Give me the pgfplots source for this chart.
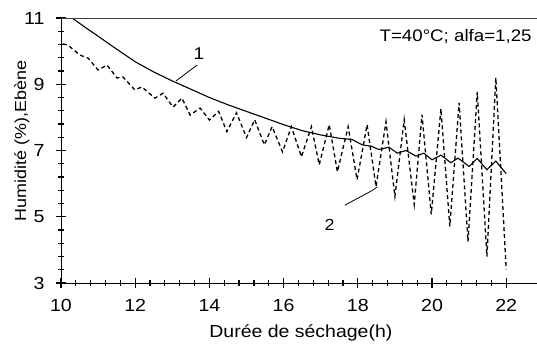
\documentclass[border=0pt]{standalone}
\usepackage{fontspec}
\setmainfont{Liberation Sans}[FakeStretch=1.12]
\usepackage{pgfplots}
\pgfplotsset{compat=1.18}
\begin{document}
\begin{tikzpicture}
\begin{axis}[
  scale only axis, width=476pt, height=265pt,
  xmin=10, xmax=22.83, ymin=3, ymax=11,
  axis lines*=left,
  axis line style={line width=1pt},
  xtick={10,12,14,16,18,20,22}, ytick={3,5,7,9,11},
  minor x tick num=4, minor y tick num=4,
  tick align=center,
  major tick length=10pt, minor tick length=6pt,
  every tick/.append style={black, line width=1.2pt},
  /pgf/number format/assume math mode=true,
  tick label style={font=\fontsize{17.5}{20}\selectfont},
  xticklabel style={yshift=-8pt}, yticklabel style={xshift=-8pt},
  xlabel={Durée de séchage(h)}, ylabel={Humidité (\%),Ebène},
  xlabel style={font=\fontsize{17.4}{20}\selectfont, at={(axis description cs:0.504,-0.204)}, anchor=base},
  ylabel style={font=\fontsize{16}{19}\selectfont, at={(axis description cs:-0.082,0.536)}, anchor=center},
]
% curve 1 (solid)
\addplot[black, line width=1.1pt] coordinates {
(10.3,11.0) (10.6,10.76) (11.0,10.45) (11.5,10.06) (12.0,9.68) (12.5,9.37)
(13.0,9.1) (13.5,8.85) (14.0,8.6) (14.5,8.38) (15.0,8.18) (15.5,7.98)
(16.0,7.78) (16.5,7.6) (17.0,7.47) (17.5,7.37)
(17.85,7.33) (18.12,7.17) (18.36,7.13) (18.57,7.03) (18.84,7.1) (19.06,6.92)
(19.3,7.0) (19.57,6.83) (19.78,6.92) (20.0,6.72) (20.24,6.86) (20.51,6.63)
(20.7,6.77) (21.0,6.52) (21.22,6.76) (21.48,6.42) (21.72,6.68) (22.0,6.3)
};
% curve 2 (dashed)
\addplot[black, line width=1.3pt, dash pattern=on 4pt off 3pt] coordinates {
(10.05,10.22) (10.19,10.18) (10.51,9.88) (10.73,9.79) (11.0,9.43) (11.24,9.58)
(11.51,9.19) (11.67,9.22) (11.99,8.83) (12.18,8.92) (12.53,8.58) (12.75,8.73)
(13.02,8.31) (13.26,8.58) (13.48,8.07) (13.75,8.28) (14.0,7.92) (14.25,8.18)
(14.47,7.57) (14.73,8.14) (15.0,7.39) (15.22,7.93) (15.48,7.17) (15.69,7.72)
(15.97,6.96) (16.21,7.72) (16.48,6.81) (16.75,7.72) (16.96,6.57) (17.23,7.78)
(17.45,6.36) (17.74,7.72) (17.98,6.12) (18.25,7.78) (18.49,5.91) (18.76,7.87)
(19.0,5.61) (19.25,7.93) (19.52,5.37) (19.73,8.08) (19.98,5.07) (20.24,8.26)
(20.48,4.71) (20.73,8.44) (20.97,4.25) (21.22,8.77) (21.48,3.8) (21.72,9.2)
(22.0,3.41)
};
\draw[line width=0.8pt] (axis cs:13.10,9.10) -- (axis cs:13.67,9.58);
\node[font=\fontsize{17}{20}\selectfont] at (axis cs:13.72,9.93) {1};
\draw[line width=0.8pt] (axis cs:17.65,5.35) -- (axis cs:18.40,5.80) -- (axis cs:18.52,5.90);
\node[font=\fontsize{16}{19}\selectfont] at (axis cs:17.24,4.75) {2};
\node[font=\fontsize{16.7}{19}\selectfont, anchor=base east] at (axis cs:22.78,10.28) {T=40°C; alfa=1,25};
\draw[line width=1pt, black!75] (rel axis cs:0,1) -- (rel axis cs:1,1);
\end{axis}
\pgfresetboundingbox
\path (-61pt,-60pt) rectangle (476pt,283pt);
\end{tikzpicture}
\end{document}
